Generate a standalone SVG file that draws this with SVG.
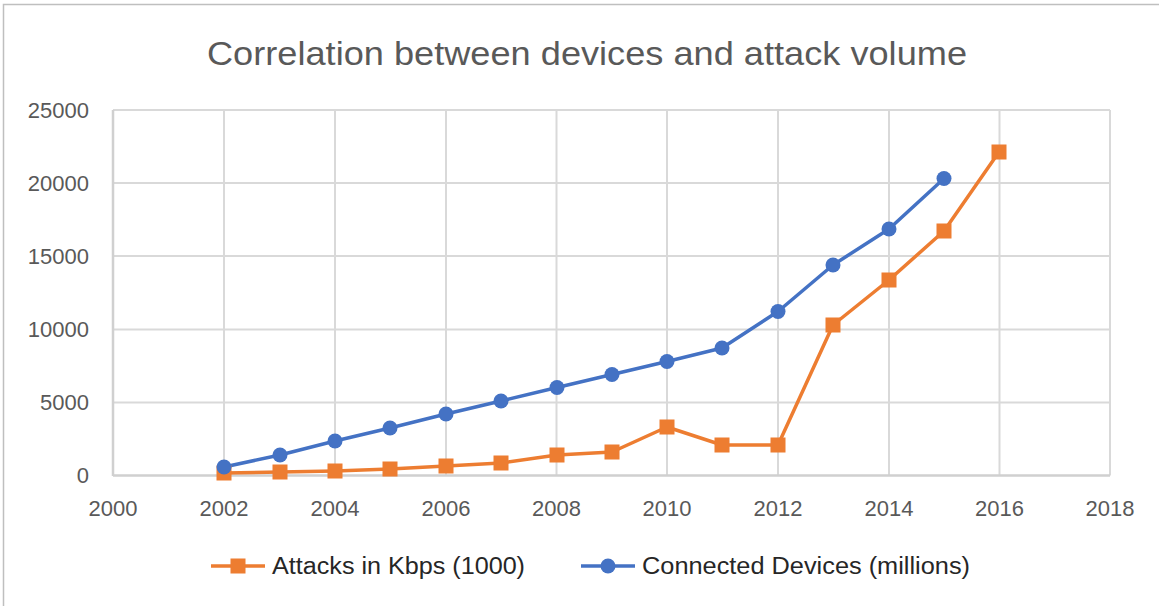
<svg xmlns="http://www.w3.org/2000/svg" width="1159" height="606" viewBox="0 0 1159 606">
<style>
.grid{stroke:#D9D9D9;stroke-width:2;fill:none}
.lbl{font-family:"Liberation Sans",Arial,sans-serif;font-size:22px;fill:#595959}
.ser-o{stroke:#ED7D31;stroke-width:3.5;fill:none;stroke-linejoin:round}
.ser-b{stroke:#4472C4;stroke-width:3.5;fill:none;stroke-linejoin:round}
.mo{fill:#ED7D31}
.mb{fill:#4472C4}
</style>
<defs>
<rect id="sq" x="-7.5" y="-7.5" width="15" height="15" class="mo"/>
<circle id="ci" r="7.5" class="mb"/>
</defs>
<rect x="0" y="0" width="1159" height="606" fill="#fff"/>
<rect x="3.5" y="4.5" width="1170" height="620" fill="none" stroke="#BFBFBF" stroke-width="1.5"/>
<g id="title">
<text x="587" y="65" text-anchor="middle" textLength="760" lengthAdjust="spacingAndGlyphs" style="font-family:'Liberation Sans',Arial,sans-serif;font-size:33px;fill:#595959">Correlation between devices and attack volume</text>
</g>
<g id="gridlines">
<path class="grid" d="M113 110H1110M113 183H1110M113 256H1110M113 329.5H1110M113 402.5H1110"/>
<path class="grid" d="M224 110V475.5M335 110V475.5M446 110V475.5M556.5 110V475.5M667 110V475.5M778 110V475.5M889 110V475.5M999.5 110V475.5M1110 110V475.5"/>
<path d="M113 110V476M113 475.5H1110" stroke="#D0D0D0" stroke-width="2.5" fill="none"/>
</g>
<g id="y-axis" class="lbl" text-anchor="end">
<text x="89" y="118">25000</text>
<text x="89" y="191">20000</text>
<text x="89" y="264">15000</text>
<text x="89" y="337">10000</text>
<text x="89" y="410">5000</text>
<text x="89" y="483">0</text>
</g>
<g id="x-axis" class="lbl" text-anchor="middle">
<text x="113" y="516">2000</text>
<text x="224" y="516">2002</text>
<text x="335" y="516">2004</text>
<text x="446" y="516">2006</text>
<text x="556.5" y="516">2008</text>
<text x="667" y="516">2010</text>
<text x="778" y="516">2012</text>
<text x="889" y="516">2014</text>
<text x="999.5" y="516">2016</text>
<text x="1110" y="516">2018</text>
</g>
<g id="connectors">
<polyline class="ser-o" points="224,473 280,472 335,471 390,469 446,466 501,463 557,455 612,452 667,427 722,445 778,445 833,325 889,280 944,231 999,152"/>
<polyline class="ser-b" points="224,467 280,455 335,441 390,428 446,414 501,401 557,387.5 612,374.5 667,361.5 722,348 778,311.5 833,265 889,229 944,178.5"/>
</g>
<g id="series-attacks">
<use href="#sq" x="224" y="473"/><use href="#sq" x="280" y="472"/><use href="#sq" x="335" y="471"/><use href="#sq" x="390" y="469"/><use href="#sq" x="446" y="466"/><use href="#sq" x="501" y="463"/><use href="#sq" x="557" y="455"/><use href="#sq" x="612" y="452"/><use href="#sq" x="667" y="427"/><use href="#sq" x="722" y="445"/><use href="#sq" x="778" y="445"/><use href="#sq" x="833" y="325"/><use href="#sq" x="889" y="280"/><use href="#sq" x="944" y="231"/><use href="#sq" x="999" y="152"/>
</g>
<g id="series-devices">
<use href="#ci" x="224" y="467"/><use href="#ci" x="280" y="455"/><use href="#ci" x="335" y="441"/><use href="#ci" x="390" y="428"/><use href="#ci" x="446" y="414"/><use href="#ci" x="501" y="401"/><use href="#ci" x="557" y="387.5"/><use href="#ci" x="612" y="374.5"/><use href="#ci" x="667" y="361.5"/><use href="#ci" x="722" y="348"/><use href="#ci" x="778" y="311.5"/><use href="#ci" x="833" y="265"/><use href="#ci" x="889" y="229"/><use href="#ci" x="944" y="178.5"/>
</g>
<g id="legend">
<path class="ser-o" d="M211 566H265"/>
<use href="#sq" x="238" y="566"/>
<text x="272" y="574" class="lbl" style="font-size:23px;fill:#262626" textLength="253" lengthAdjust="spacingAndGlyphs">Attacks in Kbps (1000)</text>
<path class="ser-b" d="M581 566H635"/>
<use href="#ci" x="608" y="566"/>
<text x="642" y="574" class="lbl" style="font-size:23px;fill:#262626" textLength="328" lengthAdjust="spacingAndGlyphs">Connected Devices (millions)</text>
</g>
</svg>
